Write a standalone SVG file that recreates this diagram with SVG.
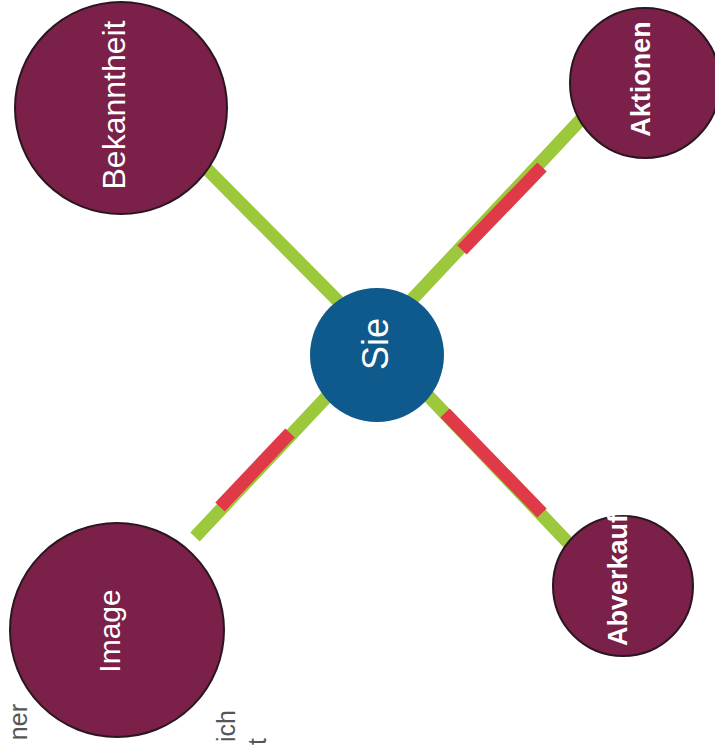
<svg xmlns="http://www.w3.org/2000/svg" width="715" height="748" viewBox="0 0 715 748">
<style>
.bg{fill:#ffffff}
.green{stroke:#9cc83b;stroke-width:13;stroke-linecap:butt;fill:none}
.red{stroke:#e03a48;stroke-width:13;stroke-linecap:butt;fill:none}
.maroon{fill:#7a2049;stroke:#2a1620;stroke-width:2}
.blue{fill:#0f5a8c;stroke:none}
.lbl{fill:#ffffff;font-family:"Liberation Sans",Arial,sans-serif;text-anchor:middle}
.b{font-weight:bold}
.frag{fill:#555555;font-family:"Liberation Sans",Arial,sans-serif;font-size:25px;text-anchor:end}
</style>
<rect class="bg" x="0" y="0" width="715" height="748"/>
<g id="connectors">
  <line class="green" x1="200" y1="162" x2="340" y2="303"/>
  <line class="green" x1="405" y1="307" x2="585" y2="115"/>
  <line class="red" x1="462" y1="250" x2="542" y2="167"/>
  <line class="green" x1="195" y1="537" x2="335" y2="388"/>
  <line class="red" x1="220" y1="507" x2="290" y2="433"/>
  <line class="green" x1="415" y1="382" x2="576" y2="551"/>
  <line class="red" x1="445" y1="413" x2="542" y2="513"/>
</g>
<g id="node-bekanntheit">
  <circle class="maroon" cx="121" cy="108" r="106"/>
  <text class="lbl" font-size="32" transform="translate(125,105) rotate(-90)">Bekanntheit</text>
</g>
<g id="node-aktionen">
  <circle class="maroon" cx="645" cy="83" r="75"/>
  <text class="lbl b" font-size="27" transform="translate(650,79) rotate(-90)">Aktionen</text>
</g>
<g id="node-image">
  <circle class="maroon" cx="117" cy="630" r="107"/>
  <text class="lbl" font-size="30" transform="translate(120,631) rotate(-90)">Image</text>
</g>
<g id="node-abverkauf">
  <circle class="maroon" cx="623" cy="586" r="70"/>
  <text class="lbl b" font-size="27" transform="translate(627,580) rotate(-90)">Abverkauf</text>
</g>
<g id="node-sie">
  <circle class="blue" cx="377" cy="355" r="67"/>
  <text class="lbl" font-size="36" transform="translate(388,344) rotate(-90)">Sie</text>
</g>
<g id="fragments">
  <text class="frag" transform="translate(27,704) rotate(-90)">ner</text>
  <text class="frag" transform="translate(235,710) rotate(-90)">ich</text>
  <text class="frag" transform="translate(266,738) rotate(-90)">t</text>
</g>
</svg>
